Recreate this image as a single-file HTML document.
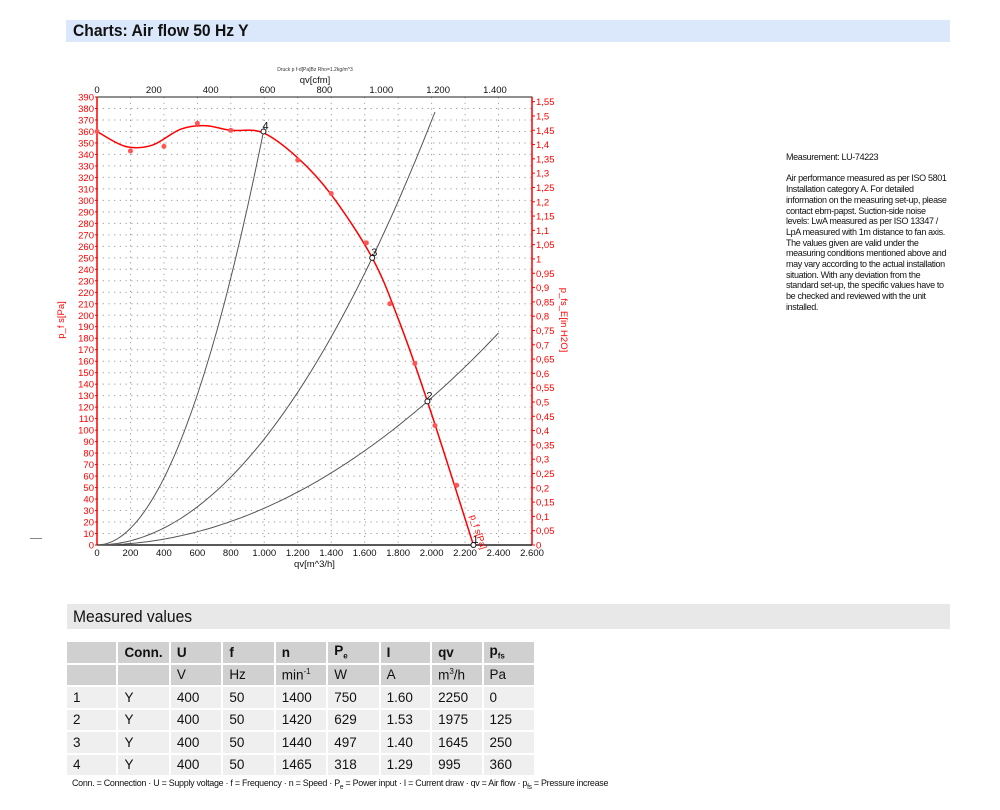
<!DOCTYPE html>
<html><head><meta charset="utf-8">
<style>
body{margin:0;background:#fff;width:1000px;height:810px;overflow:hidden;font-family:"Liberation Sans",Arial,sans-serif;position:relative}
.bar1{position:absolute;left:66px;top:20px;width:884px;height:22px;background:#dbe7fa}
.bar1 span{position:absolute;left:7px;top:1px;font-weight:bold;font-size:17px;color:#111;transform:scaleX(.92);transform-origin:left}
.bar2{position:absolute;left:67px;top:604px;width:883px;height:25px;background:#e8e8e8}
.bar2 span{position:absolute;left:6px;top:3px;font-size:17px;color:#111;transform:scaleX(.92);transform-origin:left}
.note{position:absolute;left:786px;top:152px;font-size:9px;line-height:10.7px;color:#111;letter-spacing:-.35px}
table{position:absolute;left:65px;top:640px;border-collapse:separate;border-spacing:2px;font-size:13.5px;color:#111;table-layout:fixed;width:471px}
td{height:20.5px;padding:0 0 0 6px;background:#efefef;vertical-align:middle;white-space:nowrap;overflow:hidden}
tr.h td{background:#d0d0d0}
tr.h1 td{font-weight:bold}
.leg{position:absolute;left:72px;top:778px;font-size:9.5px;color:#111;letter-spacing:-.3px;transform:scaleX(.94);transform-origin:left;white-space:nowrap}
.dash{position:absolute;left:30px;top:538px;width:12px;height:1px;background:#888}
</style></head><body>
<div class="bar1"><span>Charts: Air flow 50 Hz Y</span></div>
<div class="dash"></div>
<svg id="ch" width="1000" height="600" style="position:absolute;left:0;top:0"></svg>
<div class="note">Measurement: LU-74223<br><br>Air performance measured as per ISO 5801<br>Installation category A. For detailed<br>information on the measuring set-up, please<br>contact ebm-papst. Suction-side noise<br>levels: LwA measured as per ISO 13347 /<br>LpA measured with 1m distance to fan axis.<br>The values given are valid under the<br>measuring conditions mentioned above and<br>may vary according to the actual installation<br>situation. With any deviation from the<br>standard set-up, the specific values have to<br>be checked and reviewed with the unit<br>installed.</div>
<div class="bar2"><span>Measured values</span></div>
<table>
<colgroup><col style="width:49px"><col style="width:50px"><col style="width:50px"><col style="width:50px"><col style="width:50px"><col style="width:50px"><col style="width:49px"><col style="width:49px"><col style="width:50px"></colgroup>
<tr class="h h1"><td></td><td>Conn.</td><td>U</td><td>f</td><td>n</td><td>P<sub style="font-size:8px">e</sub></td><td>I</td><td>qv</td><td>p<sub style="font-size:8px">fs</sub></td></tr>
<tr class="h"><td></td><td></td><td>V</td><td>Hz</td><td>min<sup style="font-size:8px">-1</sup></td><td>W</td><td>A</td><td>m<sup style="font-size:8px">3</sup>/h</td><td>Pa</td></tr>
<tr><td>1</td><td>Y</td><td>400</td><td>50</td><td>1400</td><td>750</td><td>1.60</td><td>2250</td><td>0</td></tr>
<tr><td>2</td><td>Y</td><td>400</td><td>50</td><td>1420</td><td>629</td><td>1.53</td><td>1975</td><td>125</td></tr>
<tr><td>3</td><td>Y</td><td>400</td><td>50</td><td>1440</td><td>497</td><td>1.40</td><td>1645</td><td>250</td></tr>
<tr><td>4</td><td>Y</td><td>400</td><td>50</td><td>1465</td><td>318</td><td>1.29</td><td>995</td><td>360</td></tr>
</table>
<div class="leg">Conn. = Connection · U = Supply voltage · f = Frequency · n = Speed · P<sub style="font-size:7px">e</sub> = Power input · I = Current draw · qv = Air flow · p<sub style="font-size:7px">fs</sub> = Pressure increase</div>
<script>
var X0=97,X1=532,Y0=545,Y1=97;
function X(q){return X0+q*(X1-X0)/2600}
function Y(p){return Y0-p*(Y0-Y1)/390}
var s='';
for(var q=200;q<2600;q+=200)s+='<line x1="'+X(q)+'" y1="'+Y1+'" x2="'+X(q)+'" y2="'+Y0+'" stroke="#999" stroke-dasharray="1.2,4.5"/>';
for(var p=10;p<390;p+=10)s+='<line x1="'+X0+'" y1="'+Y(p)+'" x2="'+X1+'" y2="'+Y(p)+'" stroke="#999" stroke-dasharray="1.2,4.5"/>';
s+='<rect x="'+X0+'" y="'+Y1+'" width="'+(X1-X0)+'" height="'+(Y0-Y1)+'" fill="none" stroke="#222" stroke-width="1"/>';
s+='<line x1="'+X0+'" y1="'+Y1+'" x2="'+X0+'" y2="'+Y0+'" stroke="red" stroke-width="1.5"/>';
s+='<line x1="'+X1+'" y1="'+Y1+'" x2="'+X1+'" y2="'+Y0+'" stroke="red" stroke-width="1.5"/>';
s+='<line x1="'+X0+'" y1="'+Y0+'" x2="'+X1+'" y2="'+Y0+'" stroke="#222" stroke-width="1.5"/>';
for(var p=0;p<=390;p+=10){s+='<text x="'+(X0-3)+'" y="'+(Y(p)+3.5)+'" font-size="9.5" fill="red" text-anchor="end">'+p+'</text><line x1="'+(X0-2)+'" x2="'+X0+'" y1="'+Y(p)+'" y2="'+Y(p)+'" stroke="red"/>';}
for(var i=0;i<=31;i++){var v=i*0.05;var yy=Y0-v*249*(Y0-Y1)/390;var t=(i==0?'0':(Math.round(v*100)/100).toString().replace('.',','));s+='<text x="'+(X1+4)+'" y="'+(yy+3.5)+'" font-size="9.5" fill="red">'+t+'</text><line x1="'+X1+'" x2="'+(X1+3)+'" y1="'+yy+'" y2="'+yy+'" stroke="red"/>';}
for(var q=0;q<=2600;q+=200){var t=q>=1000?(Math.floor(q/1000)+'.'+('00'+(q%1000)).slice(-3)):q;s+='<text x="'+X(q)+'" y="'+(Y0+11)+'" font-size="9.5" text-anchor="middle" fill="#111">'+t+'</text>';}
s+='<text x="'+X(1300)+'" y="567" font-size="9.5" text-anchor="middle" fill="#111">qv[m^3/h]</text>';
for(var c=0;c<=1400;c+=200){var xx=X0+c*1.699*(X1-X0)/2600;var t=c>=1000?('1.'+('00'+(c%1000)).slice(-3)):c;s+='<text x="'+xx+'" y="'+(Y1-4)+'" font-size="9.5" text-anchor="middle" fill="#111">'+t+'</text>';}
s+='<text x="315" y="83" font-size="9.5" text-anchor="middle" fill="#111">qv[cfm]</text>';
s+='<text x="315" y="71" font-size="5" text-anchor="middle" fill="#333">Druck p f-d[Pa]Bz Rho=1.2kg/m^3</text>';
s+='<text transform="translate(64,320) rotate(-90)" font-size="9.5" fill="red" text-anchor="middle">p_f s[Pa]</text>';
s+='<text transform="translate(561,320) rotate(90)" font-size="9.5" fill="red" text-anchor="middle">p_fs_E[in H2O]</text>';
function par(k,qmax){var d='';for(var q=0;q<=qmax;q+=20){d+=(q?'L':'M')+X(q).toFixed(1)+','+Y(k*q*q).toFixed(1);}return '<path d="'+d+'" fill="none" stroke="#555" stroke-width="1"/>';}
s+=par(360/995/995,1000)+par(250/1645/1645,2020)+par(125/1975/1975,2400);
var pts=[[0,360],[170,347],[330,348],[500,362],[650,365],[800,361],[990,359],[1200,337],[1400,305],[1645,250],[1800,197],[1975,125],[2250,0]].map(function(p){return [X(p[0]),Y(p[1])]});
var d='M'+pts[0][0]+','+pts[0][1];
for(var i=0;i<pts.length-1;i++){var p0=pts[i-1]||pts[i],p1=pts[i],p2=pts[i+1],p3=pts[i+2]||p2;
d+='C'+(p1[0]+(p2[0]-p0[0])/6).toFixed(1)+','+(p1[1]+(p2[1]-p0[1])/6).toFixed(1)+' '+(p2[0]-(p3[0]-p1[0])/6).toFixed(1)+','+(p2[1]-(p3[1]-p1[1])/6).toFixed(1)+' '+p2[0].toFixed(1)+','+p2[1].toFixed(1);}
s+='<path d="'+d+'" fill="none" stroke="red" stroke-width="1.5"/>';
[[0,360],[200,343],[400,347],[600,367],[800,361],[1200,335],[1400,306],[1610,263],[1750,210],[1900,158],[2020,104],[2150,52]].forEach(function(p){s+='<circle cx="'+X(p[0])+'" cy="'+Y(p[1])+'" r="2.5" fill="#f55"/>';});
[[995,360,'4'],[1645,250,'3'],[1975,125,'2'],[2250,0,'1']].forEach(function(p){s+='<circle cx="'+X(p[0])+'" cy="'+Y(p[1])+'" r="2.5" fill="#fff" stroke="#111"/><text x="'+(X(p[0])-1)+'" y="'+(Y(p[1])-2)+'" font-size="11" fill="#111">'+p[2]+'</text>';});
s+='<text transform="translate(470,516) rotate(72)" font-size="9" fill="red">p_f s[Pa]</text>';
document.getElementById('ch').innerHTML=s;
</script>
</body></html>
